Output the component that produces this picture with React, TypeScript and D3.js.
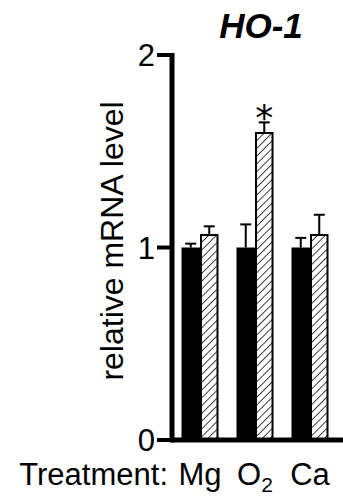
import React, { useEffect, useRef } from "react";
import * as d3 from "d3";

const treatments = ["Mg", "O2", "Ca"];
const controlValues = [1.0, 1.0, 1.0];
const controlErrors = [0.02, 0.12, 0.05];
const treatedValues = [1.07, 1.6, 1.07];
const treatedErrors = [0.04, 0.05, 0.1];
const significant = [false, true, false];
const yTicks = [0, 1, 2];

const FONT = "'Liberation Sans', Arial, sans-serif";

const App = () => {
  const svgRef = useRef<SVGSVGElement>(null);

  useEffect(() => {
    const width = 343;
    const height = 497;
    const axisX = 172;
    const barW = 18.5;

    const svg = d3.select(svgRef.current);
    svg.selectAll("*").remove();
    svg.attr("width", width).attr("height", height);

    const defs = svg.append("defs");
    defs
      .append("pattern")
      .attr("id", "hatch")
      .attr("patternUnits", "userSpaceOnUse")
      .attr("width", 5.5)
      .attr("height", 5.5)
      .attr("patternTransform", "rotate(45)")
      .append("line")
      .attr("x1", 0)
      .attr("y1", 0)
      .attr("x2", 0)
      .attr("y2", 5.5)
      .attr("stroke", "#000")
      .attr("stroke-width", 1.5);

    const y = d3.scaleLinear().domain([0, 2]).range([440, 55]);
    const x = d3.scalePoint().domain(treatments).range([200, 310]);

    const g = svg.append("g");

    // bars
    treatments.forEach((t, i) => {
      const cx = x(t)!;
      // error bars (upward only)
      const errs = [
        { c: cx - barW / 2, v: controlValues[i], e: controlErrors[i] },
        { c: cx + barW / 2, v: treatedValues[i], e: treatedErrors[i] },
      ];
      errs.forEach((d) => {
        g.append("line")
          .attr("x1", d.c)
          .attr("x2", d.c)
          .attr("y1", y(d.v))
          .attr("y2", y(d.v + d.e))
          .attr("stroke", "#000")
          .attr("stroke-width", 2);
        g.append("line")
          .attr("x1", d.c - 5.5)
          .attr("x2", d.c + 5.5)
          .attr("y1", y(d.v + d.e))
          .attr("y2", y(d.v + d.e))
          .attr("stroke", "#000")
          .attr("stroke-width", 2);
      });

      g.append("rect")
        .attr("x", cx - barW)
        .attr("y", y(controlValues[i]))
        .attr("width", barW)
        .attr("height", y(0) - y(controlValues[i]))
        .attr("fill", "#000");

      g.append("rect")
        .attr("x", cx + 1)
        .attr("y", y(treatedValues[i]) + 1)
        .attr("width", barW - 2)
        .attr("height", y(0) - y(treatedValues[i]) - 1)
        .attr("fill", "#fff");
      g.append("rect")
        .attr("x", cx + 1)
        .attr("y", y(treatedValues[i]) + 1)
        .attr("width", barW - 2)
        .attr("height", y(0) - y(treatedValues[i]) - 1)
        .attr("fill", "url(#hatch)")
        .attr("stroke", "#000")
        .attr("stroke-width", 2);

      if (significant[i]) {
        g.append("text")
          .attr("x", cx + barW / 2)
          .attr("y", y(treatedValues[i] + treatedErrors[i]) + 8)
          .attr("text-anchor", "middle")
          .attr("font-family", "'DejaVu Sans', sans-serif")
          .attr("fill", "#000")
          .attr("font-size", 36)
          .text("*");
      }
    });

    // axes
    g.append("line")
      .attr("x1", axisX)
      .attr("x2", axisX)
      .attr("y1", y(2) - 2)
      .attr("y2", y(0) + 2.5)
      .attr("stroke", "#000")
      .attr("stroke-width", 5);
    g.append("line")
      .attr("x1", axisX)
      .attr("x2", width)
      .attr("y1", y(0))
      .attr("y2", y(0))
      .attr("stroke", "#000")
      .attr("stroke-width", 5);

    yTicks.forEach((t) => {
      g.append("line")
        .attr("x1", 157)
        .attr("x2", axisX)
        .attr("y1", y(t))
        .attr("y2", y(t))
        .attr("stroke", "#000")
        .attr("stroke-width", 4);
      g.append("text")
        .attr("x", 155)
        .attr("y", y(t) + 11)
        .attr("text-anchor", "end")
        .attr("font-family", FONT)
        .attr("font-size", 31)
        .text(t);
    });

    // x labels
    treatments.forEach((t) => {
      const txt = g
        .append("text")
        .attr("x", x(t)!)
        .attr("y", 485)
        .attr("text-anchor", "middle")
        .attr("font-family", FONT)
        .attr("font-size", 31);
      if (t === "O2") {
        txt.append("tspan").text("O");
        txt.append("tspan").attr("font-size", 21).attr("dy", 7).text("2");
      } else {
        txt.text(t);
      }
    });

    g.append("text")
      .attr("x", 168)
      .attr("y", 485)
      .attr("text-anchor", "end")
      .attr("font-family", FONT)
      .attr("font-size", 31)
      .text("Treatment:");

    g.append("text")
      .attr("transform", "translate(123, 241) rotate(-90)")
      .attr("text-anchor", "middle")
      .attr("font-family", FONT)
      .attr("font-size", 32)
      .text("relative mRNA level");

    g.append("text")
      .attr("x", 261)
      .attr("y", 38)
      .attr("text-anchor", "middle")
      .attr("font-family", FONT)
      .attr("font-size", 35)
      .attr("font-weight", "bold")
      .attr("font-style", "italic")
      .text("HO-1");
  }, []);

  return (
    <svg
      ref={svgRef}
      style={{ position: "absolute", left: 0, top: 0, background: "#fff" }}
    ></svg>
  );
};

export default App;
